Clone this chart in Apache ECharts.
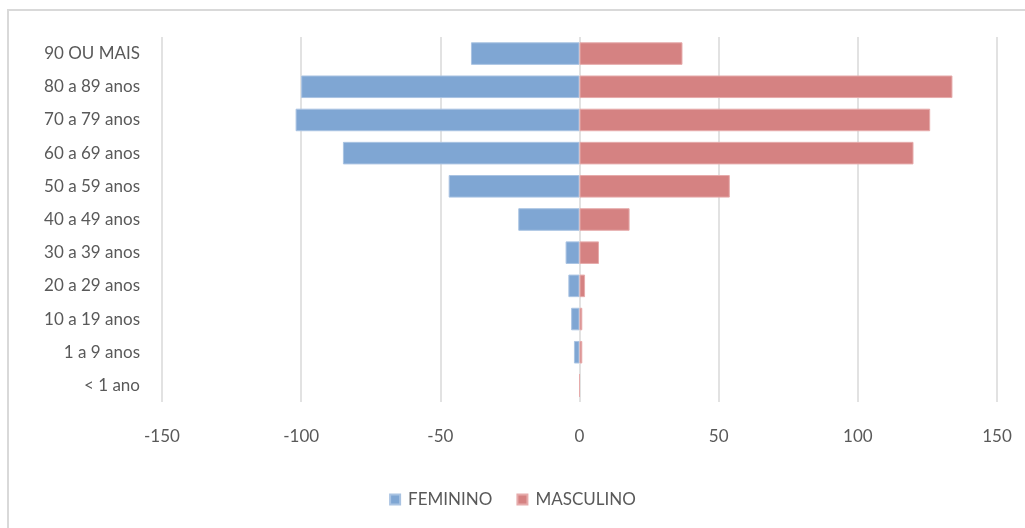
<!DOCTYPE html>
<html>
<head>
<meta charset="utf-8">
<script src="https://cdn.jsdelivr.net/npm/echarts@6/dist/echarts.min.js"></script>
<style>
    * { margin: 0; padding: 0; }
    body { width: 1025px; height: 528px; background: #fff; overflow: hidden; position: relative; }
    #main { width: 1025px; height: 528px; }
    .frame {
        position: absolute; left: 7px; top: 9px; right: -10px; bottom: -10px;
        border-left: 2px solid #d9d9d9; border-top: 2px solid #d9d9d9;
        pointer-events: none;
    }
</style>
</head>
<body>
<div id="main"></div>
<div class="frame"></div>
<script>
    // faixas etarias, de baixo para cima
    var categorias = ['< 1 ano', '1 a 9 anos', '10 a 19 anos', '20 a 29 anos', '30 a 39 anos',
        '40 a 49 anos', '50 a 59 anos', '60 a 69 anos', '70 a 79 anos', '80 a 89 anos', '90 OU MAIS'];
    var feminino = [0, -2, -3, -4, -5, -22, -47, -85, -102, -100, -39];
    var masculino = [0, 1, 1, 2, 7, 18, 54, 120, 126, 134, 37];
    var ticksX = [-150, 150, 50];

    var fonte = 'Lato, "Open Sans", sans-serif';
    var chart = echarts.init(document.getElementById('main'));
    chart.setOption({
        backgroundColor: '#fff',
        animation: false,
        grid: { left: 162, right: 28, top: 37, bottom: 126 },
        legend: {
            bottom: 15,
            left: 'center',
            itemWidth: 10,
            itemHeight: 10,
            itemGap: 24,
            icon: 'rect',
            data: ['FEMININO', 'MASCULINO'],
            textStyle: { color: '#595959', fontSize: 17, fontFamily: fonte, padding: [0, 0, 0, 3] }
        },
        xAxis: {
            type: 'value',
            min: ticksX[0],
            max: ticksX[1],
            interval: ticksX[2],
            axisLine: { show: false },
            axisTick: { show: false },
            axisLabel: { color: '#595959', fontSize: 17, fontFamily: fonte, margin: 26 },
            splitLine: { lineStyle: { color: '#d9d9d9', width: 1.5 } }
        },
        yAxis: {
            type: 'category',
            data: categorias,
            axisLine: { show: false },
            axisTick: { show: false },
            axisLabel: { color: '#595959', fontSize: 17, fontFamily: fonte, margin: 22 }
        },
        series: [{
            name: 'FEMININO',
            type: 'bar',
            stack: 'total',
            barCategoryGap: '32%',
            itemStyle: { color: '#7fa6d3', borderColor: '#a9c3e2', borderWidth: 1 },
            data: feminino
        }, {
            name: 'MASCULINO',
            type: 'bar',
            stack: 'total',
            barCategoryGap: '32%',
            itemStyle: { color: '#d58282', borderColor: '#e6abab', borderWidth: 1 },
            data: masculino
        }]
    });
</script>
</body>
</html>
